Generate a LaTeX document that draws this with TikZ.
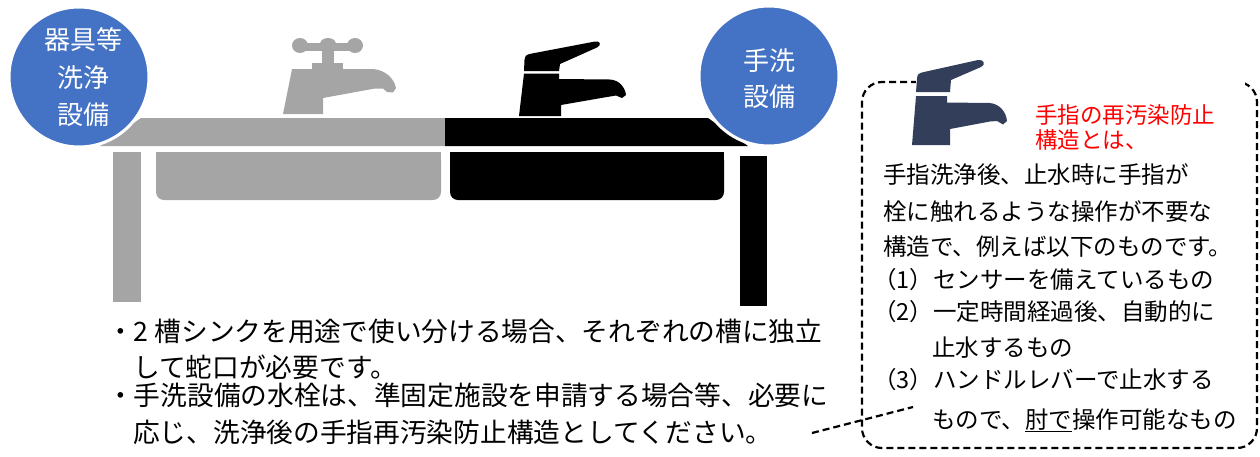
\documentclass[tikz,border=0pt]{standalone}
\usepackage{fontspec}
\setmainfont{Noto Sans CJK JP}
\definecolor{circblue}{HTML}{4472C4}
\definecolor{sinkgray}{HTML}{A5A5A5}
\definecolor{iconnavy}{HTML}{333F5A}
\begin{document}
\begin{tikzpicture}[x=1pt,y=-1pt,
  badge/.style={circle, fill=circblue, draw=white, line width=3pt, minimum size=140pt, inner sep=0pt},
  badgetext/.style={anchor=base, text=white, inner sep=0pt, font=\fontsize{26}{26}\selectfont},
  note/.style={anchor=base west, inner sep=0pt, font=\fontsize{26.7}{26.7}\selectfont},
  boxtext/.style={anchor=base west, inner sep=0pt, font=\fontsize{23.5}{23.5}\selectfont},
  redtext/.style={anchor=base west, inner sep=0pt, text=red, font=\fontsize{22.5}{22.5}\selectfont},
  dashline/.style={line width=2.2pt, dash pattern=on 7pt off 4pt},
]
\useasboundingbox (0,0) rectangle (1260,456);

% ---- counter top: grey half and black half
\fill[sinkgray] (100,146) -- (141,118) -- (445,118) -- (445,146) -- cycle;
\fill[black] (445,118) -- (708,118) -- (748,146) -- (445,146) -- cycle;

% ---- basins (rounded at the bottom)
\fill[sinkgray, rounded corners=8pt] (156,152) rectangle (441,200);
\fill[sinkgray] (156,152) rectangle (441,175);
\fill[black, rounded corners=8pt] (450,152) rectangle (724,200);
\fill[black] (450,152) rectangle (724,175);

% ---- legs
\fill[sinkgray] (113,152) rectangle (141,302);
\fill[black] (740,156) rectangle (767,306);

% ---- grey cross-handle tap
\fill[sinkgray] (300,45.5) ellipse [x radius=8, y radius=7.5];
\fill[sinkgray] (355,45.5) ellipse [x radius=8, y radius=7.5];
\fill[sinkgray] (328,44) ellipse [x radius=8, y radius=6];
\fill[sinkgray] (300,43) rectangle (355,51);
\fill[sinkgray] (322,50) rectangle (334,64);
\fill[sinkgray] (312,63) rectangle (343,69.5);
\fill[sinkgray] (292,69) -- (373,69) .. controls (385,70) and (394,78) .. (396,88)
  -- (393,92.5) -- (387,92) -- (383,88.5) -- (375,88.5) -- (323,98) -- (323,114) -- (283,114) -- cycle;

% ---- black lever tap
\fill[black] (524,71) -- (524.5,60) .. controls (525,55) and (527,54.5) .. (532,53.5) -- (595,41.5)
  .. controls (600,40.5) and (602,45) .. (597,47.5) -- (560,64) -- (559,71) -- cycle;
\fill[black] (524,73.5) -- (559,73.5) -- (559,79) -- (610,79.5) .. controls (619,80) and (625,87) .. (626,95)
  -- (622,98) -- (616,95.5) -- (607,97) -- (561,105) -- (561,116) -- (519,116) -- cycle;

% ---- badges
\node[badge] (cleanbadge) at (79,77) {};
\node[badgetext] (cleanA) at (83.5,49) {器具等};
\node[badgetext] (cleanB) at (83.5,87) {洗浄};
\node[badgetext] (cleanC) at (83.5,124) {設備};
\node[badge] (handbadge) at (769,76) {};
\node[badgetext] (handA) at (769,70) {手洗};
\node[badgetext] (handB) at (769,106) {設備};

% ---- notes under the sink
\node[note] (noteA) at (107,341) {・2 槽シンクを用途で使い分ける場合、それぞれの槽に独立};
\node[note] (noteB) at (133,377) {して蛇口が必要です。};
\node[note] (noteC) at (107,405) {・手洗設備の水栓は、準固定施設を申請する場合等、必要に};
\node[note] (noteD) at (133,442) {応じ、洗浄後の手指再汚染防止構造としてください。};

% ---- explanation box
\node[draw, dashline, rounded corners=20pt, minimum width=395pt, minimum height=366pt, inner sep=0pt]
  (infobox) at (1059.5,265) {};
\fill[white] (916,76) rectangle (1245,89);

% small tap icon
\fill[iconnavy] (916,92) -- (917,79) .. controls (917,74) and (919,73) .. (924,72) -- (978,60)
  .. controls (984,59) and (986,65) .. (981,67) -- (951,80) -- (950,92) -- cycle;
\fill[iconnavy] (916,96) -- (947,96) -- (947,102.5) -- (990,103) .. controls (999,104) and (1006,111) .. (1007,121)
  -- (1003,124.5) -- (997,121) -- (990,121.5) -- (950,129) -- (950,145) -- (912,145) -- cycle;

\node[redtext] (headA) at (1035,123) {手指の再汚染防止};
\node[redtext] (headB) at (1035,148) {構造とは、};

\node[boxtext] (lineA) at (883,183) {手指洗浄後、止水時に手指が};
\node[boxtext] (lineB) at (883,220) {栓に触れるような操作が不要な};
\node[boxtext] (lineC) at (883,255) {構造で、例えば以下のものです。};
\node[boxtext] (lineD) at (873,288) {（1）センサーを備えているもの};
\node[boxtext] (lineE) at (873,320) {（2）一定時間経過後、自動的に};
\node[boxtext] (lineF) at (932,356) {止水するもの};
\node[boxtext] (lineG) at (873,388) {（3）ハンドルレバーで止水する};
\node[boxtext] (lineH) at (932,428) {もので、\underline{肘で}操作可能なもの};

% ---- leader from the last note to the box
\coordinate (leadTail) at (812,433);
\coordinate (leadHead) at (913,407);
\draw[dashline] (leadTail) -- (leadHead);
\end{tikzpicture}
\end{document}
